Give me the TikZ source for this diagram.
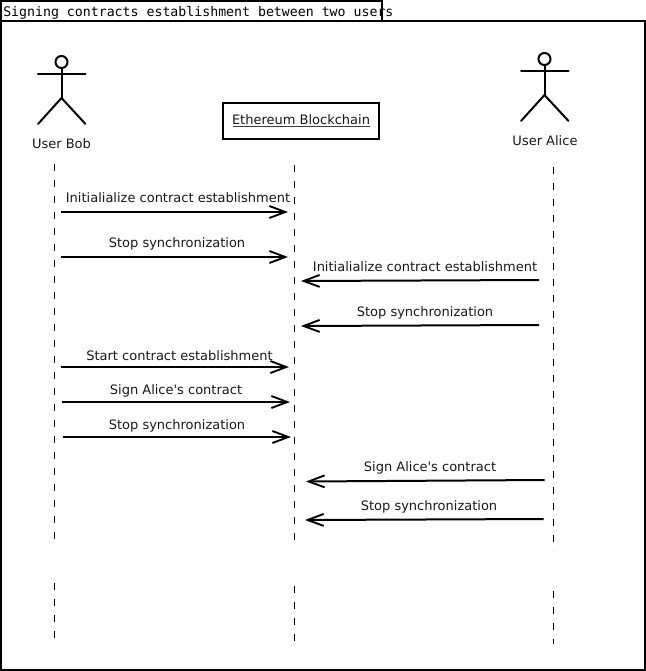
\documentclass[tikz,border=0pt]{standalone}
\usepackage{fontspec}
\setmainfont{DejaVu Sans}
\setmonofont{DejaVu Sans Mono}
\usetikzlibrary{arrows.meta}
\tikzset{
  x=0.75pt,y=-0.75pt,
  frameline/.style={draw=black,line width=1.5pt},
  titleline/.style={draw=black,line width=1.1pt},
  actorline/.style={draw=black,line width=1.5pt,line cap=round},
  lifeline/.style={draw=black,line width=0.75pt,dash pattern=on 5.25pt off 6.75pt},
  message/.style={draw=black,line width=1.5pt,-{Straight Barb[length=12pt,width=9pt,line width=1.4pt]}},
  msglabel/.style={font=\fontsize{9.75pt}{11pt}\selectfont,inner sep=0pt,text=black!90},
  actorlabel/.style={font=\fontsize{9.75pt}{11pt}\selectfont,inner sep=0pt,text=black!90}
}
\begin{document}
\begin{tikzpicture}
\useasboundingbox (0,0) rectangle (646,671);
\fill[white] (0,0) rectangle (646,671);
% title and frame
\node[anchor=west,inner sep=0pt,font=\ttfamily\fontsize{9.92pt}{11pt}\selectfont] (title) at (3,12.8) {Signing contracts establishment between two users};
\draw[frameline] (1,21) rectangle (645,670);
\draw[titleline] (1,1) rectangle (382,21);
% actors
\begin{scope}[actorline]
\draw (61.5,62) circle (6);
\draw (61.5,68) -- (61.5,98);
\draw (38,74) -- (85.5,74);
\draw (38,124) -- (61.5,98) -- (85.5,124);
\draw (544.5,59) circle (6);
\draw (544.5,65) -- (544.5,95);
\draw (521,71) -- (568.5,71);
\draw (521,121) -- (544.5,95) -- (568.5,121);
\end{scope}
\node[actorlabel] (bob) at (61.5,143.5) {User Bob};
\node[actorlabel] (alice) at (545,140.5) {User Alice};
% blockchain
\draw[frameline] (222.5,103) rectangle (378.5,139);
\node[actorlabel] (chain) at (301,120) {Ethereum Blockchain};
\draw[black!75,line width=0.9pt] (232.5,126.5) -- (369.5,126.5);
% lifelines
\coordinate (b1) at (54.5,164); \coordinate (b2) at (54.5,541);
\coordinate (b3) at (54.5,583); \coordinate (b4) at (54.5,640);
\coordinate (c1) at (294.5,165); \coordinate (c2) at (294.5,542);
\coordinate (c3) at (294.5,586); \coordinate (c4) at (294.5,643);
\coordinate (a1) at (553.5,167); \coordinate (a2) at (553.5,551);
\coordinate (a3) at (553.5,591); \coordinate (a4) at (553.5,644);
\draw[lifeline] (b1) -- (b2);
\draw[lifeline] (b3) -- (b4);
\draw[lifeline] (c1) -- (c2);
\draw[lifeline] (c3) -- (c4);
\draw[lifeline] (a1) -- (a2);
\draw[lifeline] (a3) -- (a4);
% messages
\coordinate (m1s) at (60.5,212); \coordinate (m1e) at (288,212);
\coordinate (m2s) at (60.5,257); \coordinate (m2e) at (288,257);
\coordinate (m3s) at (539,280); \coordinate (m3e) at (301,281);
\coordinate (m4s) at (539,325); \coordinate (m4e) at (301,326);
\coordinate (m5s) at (61,367); \coordinate (m5e) at (289,367);
\coordinate (m6s) at (62,402); \coordinate (m6e) at (290,402);
\coordinate (m7s) at (63,437); \coordinate (m7e) at (291,437);
\coordinate (m8s) at (544.5,480); \coordinate (m8e) at (306,481.5);
\coordinate (m9s) at (543.5,519); \coordinate (m9e) at (305,520);
\foreach \i in {1,...,9} {\draw[message] (m\i s) -- (m\i e);}
\node[msglabel] (l1) at (178,198) {Initialialize contract establishment};
\node[msglabel] (l2) at (177,243.5) {Stop synchronization};
\node[msglabel] (l3) at (425,267) {Initialialize contract establishment};
\node[msglabel] (l4) at (425,312.5) {Stop synchronization};
\node[msglabel] (l5) at (179.5,356) {Start contract establishment};
\node[msglabel] (l6) at (176,390.5) {Sign Alice\textquotesingle s contract};
\node[msglabel] (l7) at (177,425.5) {Stop synchronization};
\node[msglabel] (l8) at (430,467.5) {Sign Alice\textquotesingle s contract};
\node[msglabel] (l9) at (429,506.5) {Stop synchronization};
\end{tikzpicture}
\end{document}
